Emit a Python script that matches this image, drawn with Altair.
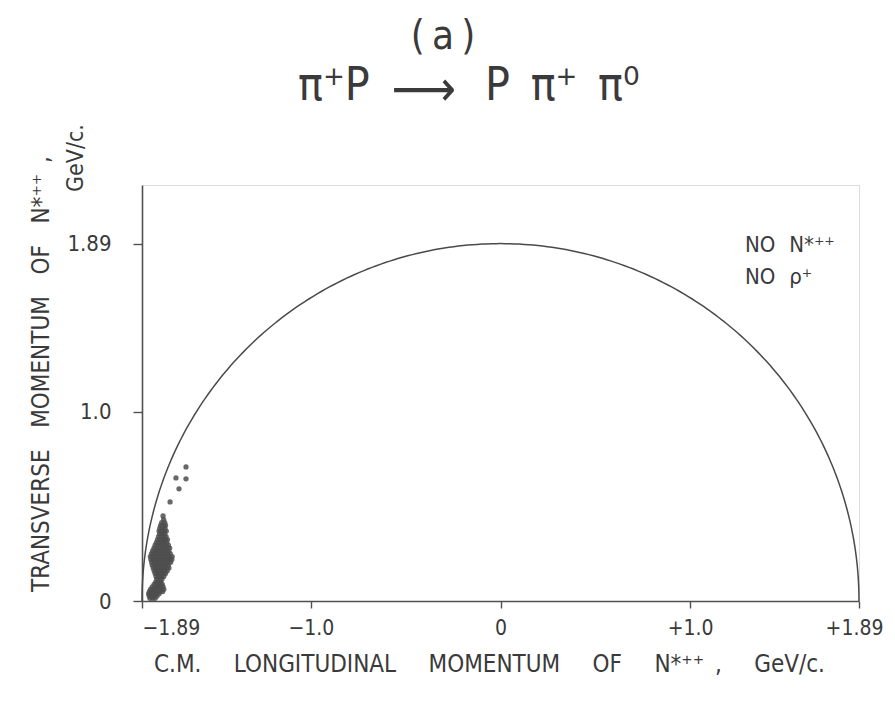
import altair as alt
import pandas as pd
import numpy as np

# ---------------- data ----------------
R_LIMIT = 1.89  # kinematic limit (GeV/c), radius of the boundary semicircle

# dense cluster: one list of longitudinal momenta per transverse-momentum row
row_y = [0.430, 0.415, 0.400, 0.385, 0.370, 0.355, 0.340, 0.325, 0.310, 0.295,
         0.280, 0.265, 0.250, 0.235, 0.220, 0.205, 0.190, 0.175, 0.160, 0.145,
         0.130, 0.115, 0.100, 0.088, 0.075, 0.062, 0.050, 0.038, 0.026, 0.014]
row_x = [
    [-1.776],
    [-1.786, -1.770],
    [-1.792, -1.778, -1.766],
    [-1.796, -1.782, -1.769],
    [-1.800, -1.787, -1.773, -1.762],
    [-1.797, -1.783, -1.770],
    [-1.803, -1.789, -1.775, -1.763],
    [-1.808, -1.794, -1.780, -1.766, -1.756],
    [-1.814, -1.800, -1.786, -1.772, -1.759],
    [-1.821, -1.806, -1.792, -1.778, -1.764, -1.751],
    [-1.827, -1.812, -1.798, -1.784, -1.770, -1.756, -1.744],
    [-1.834, -1.819, -1.805, -1.791, -1.777, -1.763, -1.749],
    [-1.840, -1.826, -1.812, -1.798, -1.784, -1.770, -1.756, -1.741],
    [-1.846, -1.831, -1.817, -1.803, -1.789, -1.775, -1.761, -1.746, -1.731],
    [-1.843, -1.829, -1.815, -1.801, -1.787, -1.773, -1.759, -1.744, -1.733],
    [-1.839, -1.824, -1.810, -1.796, -1.782, -1.768, -1.753, -1.739],
    [-1.836, -1.821, -1.807, -1.793, -1.779, -1.765, -1.751],
    [-1.831, -1.817, -1.803, -1.789, -1.775, -1.761, -1.748],
    [-1.826, -1.812, -1.798, -1.784, -1.770, -1.757],
    [-1.821, -1.807, -1.793, -1.779, -1.766],
    [-1.816, -1.802, -1.788, -1.775],
    [-1.812, -1.798, -1.785],
    [-1.818, -1.804, -1.791],
    [-1.826, -1.811, -1.796, -1.783],
    [-1.836, -1.821, -1.807, -1.793, -1.779],
    [-1.845, -1.831, -1.817, -1.803, -1.789, -1.775],
    [-1.851, -1.837, -1.823, -1.809, -1.795, -1.781],
    [-1.855, -1.842, -1.828, -1.814, -1.800],
    [-1.852, -1.838, -1.824, -1.811],
    [-1.848, -1.834, -1.821],
]

# isolated events above the cluster
outlier_x = [-1.658, -1.711, -1.658, -1.695, -1.742, -1.779]
outlier_y = [0.709, 0.651, 0.646, 0.593, 0.524, 0.450]

x_tick_vals = [-1.89, -1.0, 0.0, 1.0, 1.89]
x_tick_labels = ["\u22121.89", "\u22121.0", "0", "+1.0", "+1.89"]
y_tick_vals = [0.0, 1.0, 1.89]
y_tick_labels = ["0", "1.0", "1.89"]

SP = "\u2003"            # wide gap between hand-lettered words
SPX = "\u2003\u2002"     # wider gap used on the x title
title_top = "(\u2009a\u2009)"
reaction_left = "\u03c0\u207aP"
reaction_arrow = "\u27f6"
reaction_right = "P\u2002\u03c0\u207a\u2002\u03c0\u2070"
note_1 = "NO\u2002\u2009N*\u207a\u207a"
note_2 = "NO\u2002\u2009\u03c1\u207a"
x_title = SPX.join(["C.M.", "LONGITUDINAL", "MOMENTUM", "OF", "N*\u207a\u207a\u2002,", "GeV/c."])
y_title_1 = SP.join(["TRANSVERSE", "MOMENTUM", "OF", "N*\u207a\u207a\u2002,"])
y_title_2 = "GeV/c."

# ---------------- tables ----------------
pts_x, pts_y = [], []
for yv, xs in zip(row_y, row_x):
    for xv in xs:
        pts_x.append(xv)
        pts_y.append(yv)
pts_x += outlier_x
pts_y += outlier_y
points = pd.DataFrame({"pl": pts_x, "pt": pts_y})

theta = np.linspace(0.0, np.pi, 241)
boundary = pd.DataFrame({
    "pl": R_LIMIT * np.cos(theta),
    "pt": R_LIMIT * np.sin(theta),
    "k": np.arange(len(theta)),
})


def label_expr(vals, labels):
    expr = "''"
    for v, l in zip(vals[::-1], labels[::-1]):
        expr = f"abs(datum.value - ({v})) < 1e-6 ? '{l}' : " + expr
    return expr


INK = "#3a3a3a"
FONT = "DejaVu Sans Condensed, Liberation Sans, sans-serif"
SFONT = "DejaVu Sans Condensed, DejaVu Sans, sans-serif"

xscale = alt.Scale(domain=[-1.89, 1.89], nice=False, zero=False)
yscale = alt.Scale(domain=[0, 2.2], nice=False, zero=False)

xaxis = alt.Axis(
    values=x_tick_vals, labelExpr=label_expr(x_tick_vals, x_tick_labels),
    title=None, grid=False, tickSize=7, labelPadding=9, labelFontSize=21,
    labelFont=FONT, labelColor=INK, domainColor="#505050", tickColor="#505050",
    domainWidth=1.6, tickWidth=1.4, labelFlush=False,
    labelAlign={"condition": {"test": "datum.value < -1.5", "value": "left"}, "value": "center"},
    labelOffset={"condition": {"test": "datum.value > 1.5", "value": -5}, "value": 0},
)
yaxis = alt.Axis(
    values=y_tick_vals, labelExpr=label_expr(y_tick_vals, y_tick_labels),
    title=None, grid=False, tickSize=9, labelPadding=22, labelFontSize=22,
    labelFont=FONT, labelColor=INK, domainColor="#505050", tickColor="#505050",
    domainWidth=1.6, tickWidth=1.4, labelFlush=False,
)

curve = alt.Chart(boundary).mark_line(color="#4a4a4a", strokeWidth=1.5).encode(
    x=alt.X("pl:Q", scale=xscale, axis=xaxis),
    y=alt.Y("pt:Q", scale=yscale, axis=yaxis),
    order="k:Q",
)

dots = alt.Chart(points).mark_circle(size=28, color="#4d4d4d", opacity=0.85).encode(
    x=alt.X("pl:Q", scale=xscale),
    y=alt.Y("pt:Q", scale=yscale),
)


def label(text, x, y, size, align="center", baseline="middle", angle=0, font=SFONT):
    return alt.Chart(pd.DataFrame({"t": [text]})).mark_text(
        align=align, baseline=baseline, angle=angle, fontSize=size,
        font=font, color=INK,
    ).encode(text="t:N", x=alt.value(x), y=alt.value(y))


texts = [
    label(title_top, 301, -148, 40),
    label(reaction_left, 156, -85, 46, align="left", baseline="alphabetic"),
    label(reaction_arrow, 282, -94, 50),
    label(reaction_right, 343, -85, 46, align="left", baseline="alphabetic"),
    label(note_1, 603, 60, 22, align="left"),
    label(note_2, 603, 92, 22, align="left"),
    label(x_title, 12, 480, 24, align="left"),
    label(y_title_1, -100, 407, 24, align="left", angle=270),
    label(y_title_2, -66, 7, 23, align="left", angle=270),
]

chart = alt.layer(curve, dots, *texts).properties(
    width=717, height=416,
    autosize=alt.AutoSizeParams(type="none"),
    padding={"left": 134, "top": 177, "right": 28, "bottom": 94},
).configure_view(stroke=None).configure(background="white")

chart.save("out.html", embed_options={"renderer": "svg", "actions": False})
